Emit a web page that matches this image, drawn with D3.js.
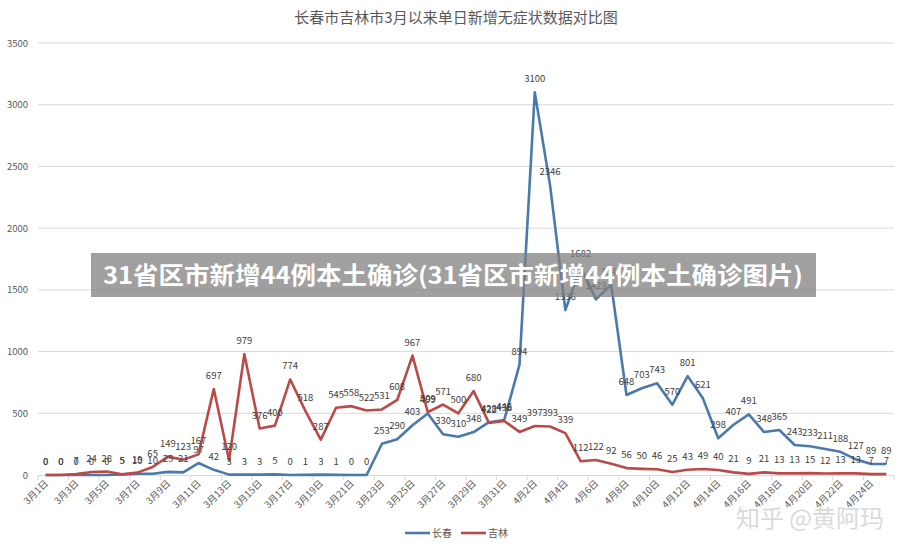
<!DOCTYPE html>
<html><head><meta charset="utf-8">
<script src="https://cdn.jsdelivr.net/npm/d3@7"></script>
<style>body{margin:0;background:#fff}svg{display:block}text{font-family:"Noto Sans CJK SC","Noto Sans",sans-serif}</style>
</head><body><svg id="c" width="908" height="551"></svg>
<script>
const dates = [];
for (let d = 1; d <= 31; d++) dates.push("3月" + d + "日");
for (let d = 1; d <= 25; d++) dates.push("4月" + d + "日");
const changchun = [0,0,0,0,0,5,10,10,25,21,97,42,3,3,3,5,0,1,3,1,0,0,253,290,403,499,330,310,348,428,446,894,3100,2346,1336,1682,1423,1542,648,703,743,570,801,621,298,407,491,348,365,243,233,211,188,127,89,89];
const jilin = [0,0,7,24,28,5,19,65,149,123,167,697,120,979,376,400,774,518,287,545,558,522,531,608,967,509,571,500,680,422,438,349,397,393,339,112,122,92,56,50,46,25,43,49,40,21,9,21,13,13,15,12,13,13,7,7];
const yTicks = [0,500,1000,1500,2000,2500,3000,3500];
const seriesNames = ["长春","吉林"];
const colors = ["#4a79ad","#bb4a47"];

const svg = d3.select("#c");
const L = 38, R = 894, T = 43, B = 475;
const x = d3.scaleBand().domain(dates).range([L, R]);
const y = d3.scaleLinear().domain([0, 3500]).range([B, T]);
const cx = d => x(d) + x.bandwidth() / 2;

svg.append("text").attr("x", 456).attr("y", 23).attr("text-anchor", "middle")
  .attr("font-size", 15).attr("fill", "#595959").text("长春市吉林市3月以来单日新增无症状数据对比图");

// grid
svg.append("g").selectAll("line").data(yTicks.slice(1)).join("line")
  .attr("x1", L).attr("x2", R).attr("y1", d => y(d)).attr("y2", d => y(d))
  .attr("stroke", "#d9d9d9").attr("stroke-width", 1);
svg.append("g").selectAll("text").data(yTicks).join("text")
  .attr("x", 28).attr("y", d => y(d) + 3.5).attr("text-anchor", "end")
  .attr("font-size", 9.5).attr("fill", "#595959").text(d => d);

// x axis
svg.append("line").attr("x1", L).attr("x2", R).attr("y1", B + 0.5).attr("y2", B + 0.5)
  .attr("stroke", "#d9d9d9");
const tickIdx = d3.range(0, dates.length + 1, 2);
svg.append("g").selectAll("line").data(tickIdx).join("line")
  .attr("x1", i => L + i * x.step()).attr("x2", i => L + i * x.step())
  .attr("y1", B).attr("y2", B + 5).attr("stroke", "#d9d9d9");
svg.append("g").selectAll("text").data(dates.filter((d, i) => i % 2 === 0)).join("text")
  .attr("transform", d => `translate(${cx(d) + 3},${B + 9}) rotate(-45)`)
  .attr("text-anchor", "end").attr("font-size", 9.5).attr("fill", "#595959").text(d => d);

// lines
const line = d3.line().x((v, i) => cx(dates[i])).y(v => y(v));
[changchun, jilin].forEach((s, k) => {
  svg.append("path").datum(s).attr("d", line).attr("fill", "none")
    .attr("stroke", colors[k]).attr("stroke-width", 2.6).attr("stroke-linejoin", "round");
});
[changchun, jilin].forEach((s, k) => {
  svg.append("g").selectAll("text").data(s).join("text")
    .attr("x", (v, i) => cx(dates[i])).attr("y", v => y(v) - 10)
    .attr("text-anchor", "middle").attr("font-size", 9.5).attr("fill", "#404040").text(v => v);
});

// legend
const lg = svg.append("g");
seriesNames.forEach((n, k) => {
  const lx = 405 + k * 56;
  lg.append("line").attr("x1", lx).attr("x2", lx + 25).attr("y1", 533).attr("y2", 533)
    .attr("stroke", colors[k]).attr("stroke-width", 2.6);
  lg.append("text").attr("x", lx + 27).attr("y", 537).attr("font-size", 10).attr("fill", "#595959").text(n);
});

// overlay banner
svg.append("rect").attr("x", 91).attr("y", 253).attr("width", 725).attr("height", 44)
  .attr("fill", "#808080").attr("opacity", 0.75);
svg.append("text").attr("x", 453).attr("y", 284).attr("text-anchor", "middle")
  .attr("font-size", 23.5).attr("font-weight", "bold").attr("fill", "#fff")
  .attr("textLength", 700).attr("lengthAdjust", "spacingAndGlyphs")
  .text("31省区市新增44例本土确诊(31省区市新增44例本土确诊图片)");

// watermark
svg.append("text").attr("x", 884).attr("y", 527).attr("text-anchor", "end")
  .attr("font-size", 24).attr("fill", "#d4d4d4").attr("opacity", 0.85).text("知乎 @黄阿玛");
</script></body></html>
